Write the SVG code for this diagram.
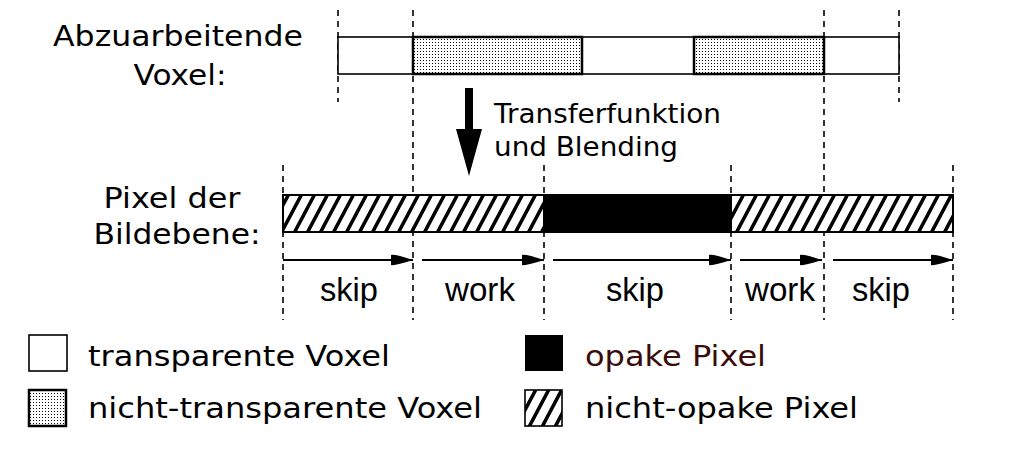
<svg xmlns="http://www.w3.org/2000/svg" width="1022" height="456" viewBox="0 0 1022 456">
<style>
.lbl{font-family:"DejaVu Sans",sans-serif;font-size:28px;fill:#000}
.leg{font-family:"DejaVu Sans",sans-serif;font-size:28px;fill:#000}
.sw{font-family:"Liberation Sans",Arial,sans-serif;font-size:33px;fill:#000}
.dash{stroke:#000;stroke-width:1.6;stroke-dasharray:6,5;fill:none}
.arr{stroke:#000;stroke-width:1.8;fill:none;marker-end:url(#ah)}
</style>
<defs>
<pattern id="dots" width="3" height="3" patternUnits="userSpaceOnUse">
<rect width="3" height="3" fill="#fff"/>
<rect x="0" y="0" width="1" height="1" fill="#000"/>
</pattern>
<pattern id="hatch" width="13" height="40" patternUnits="userSpaceOnUse" patternTransform="skewX(-28)">
<rect width="13" height="40" fill="#fff"/>
<rect x="0" y="0" width="4" height="40" fill="#000"/>
</pattern>
<marker id="ah" markerWidth="22" markerHeight="12" refX="22" refY="6" orient="auto" markerUnits="userSpaceOnUse">
<path d="M0,1 Q4,0 22,6 Q4,12 0,11 Q-2,6 0,1 Z" fill="#000"/>
</marker>
</defs>
<rect width="1022" height="456" fill="#fff"/>

<g id="guides">
<line class="dash" x1="338" y1="10" x2="338" y2="102"/>
<line class="dash" x1="899" y1="10" x2="899" y2="102"/>
<line class="dash" x1="413" y1="10" x2="413" y2="320"/>
<line class="dash" x1="824" y1="10" x2="824" y2="320"/>
<line class="dash" x1="283" y1="165" x2="283" y2="320"/>
<line class="dash" x1="544" y1="165" x2="544" y2="320"/>
<line class="dash" x1="731" y1="165" x2="731" y2="320"/>
<line class="dash" x1="953" y1="165" x2="953" y2="320"/>
</g>

<g id="voxel-row">
<text class="lbl" x="178" y="46" text-anchor="middle" textLength="250" lengthAdjust="spacingAndGlyphs">Abzuarbeitende</text>
<text class="lbl" x="180" y="85" text-anchor="middle" textLength="93" lengthAdjust="spacingAndGlyphs">Voxel:</text>
<rect x="338" y="37" width="561" height="37" fill="#fff" stroke="#000" stroke-width="1.6"/>
<rect x="413" y="37" width="169" height="37" fill="url(#dots)" stroke="#000" stroke-width="2.5"/>
<rect x="694" y="37" width="130" height="37" fill="url(#dots)" stroke="#000" stroke-width="2.5"/>
</g>

<g id="transfer">
<path d="M465,88 H473 V129 H482 L469,176 L456,129 H465 Z" fill="#000"/>
<text class="lbl" x="494" y="123" style="font-size:26px" textLength="227" lengthAdjust="spacingAndGlyphs">Transferfunktion</text>
<text class="lbl" x="494" y="156" style="font-size:26px" textLength="184" lengthAdjust="spacingAndGlyphs">und Blending</text>
</g>

<g id="pixel-row">
<text class="lbl" x="172" y="208" text-anchor="middle" textLength="137" lengthAdjust="spacingAndGlyphs">Pixel der</text>
<text class="lbl" x="177" y="244" text-anchor="middle" textLength="167" lengthAdjust="spacingAndGlyphs">Bildebene:</text>
<rect x="283" y="195" width="261" height="37" fill="url(#hatch)" stroke="#000" stroke-width="2"/>
<rect x="544" y="195" width="187" height="37" fill="#000" stroke="#000" stroke-width="2"/>
<rect x="731" y="195" width="222" height="37" fill="url(#hatch)" stroke="#000" stroke-width="2"/>
</g>

<g id="connectors">
<line class="arr" x1="283" y1="260" x2="413" y2="260"/>
<line class="arr" x1="422" y1="260" x2="544" y2="260"/>
<line class="arr" x1="553" y1="260" x2="731" y2="260"/>
<line class="arr" x1="740" y1="260" x2="822" y2="260"/>
<line class="arr" x1="833" y1="260" x2="953" y2="260"/>
</g>

<g id="phase-labels">
<text class="sw" x="320" y="301" textLength="58" lengthAdjust="spacingAndGlyphs">skip</text>
<text class="sw" x="445" y="301" textLength="70" lengthAdjust="spacingAndGlyphs">work</text>
<text class="sw" x="606" y="301" textLength="58" lengthAdjust="spacingAndGlyphs">skip</text>
<text class="sw" x="745" y="301" textLength="70" lengthAdjust="spacingAndGlyphs">work</text>
<text class="sw" x="852" y="301" textLength="58" lengthAdjust="spacingAndGlyphs">skip</text>
</g>

<g id="legend-transparent">
<rect x="29" y="335" width="38" height="36" fill="#fff" stroke="#000" stroke-width="1.6"/>
<text class="leg" x="88" y="366" textLength="302" lengthAdjust="spacingAndGlyphs">transparente Voxel</text>
</g>
<g id="legend-nontransparent">
<rect x="29" y="390" width="37" height="36" fill="url(#dots)" stroke="#000" stroke-width="2.5"/>
<text class="leg" x="88" y="418" textLength="394" lengthAdjust="spacingAndGlyphs">nicht-transparente Voxel</text>
</g>
<g id="legend-opaque">
<rect x="525" y="335" width="38" height="36" fill="#000"/>
<text class="leg" x="585" y="366" style="fill:#3a0c0c" textLength="181" lengthAdjust="spacingAndGlyphs">opake Pixel</text>
</g>
<g id="legend-nonopaque">
<rect x="525" y="390" width="37" height="36" fill="url(#hatch)" stroke="#000" stroke-width="1.6"/>
<text class="leg" x="585" y="418" textLength="273" lengthAdjust="spacingAndGlyphs">nicht-opake Pixel</text>
</g>
</svg>
